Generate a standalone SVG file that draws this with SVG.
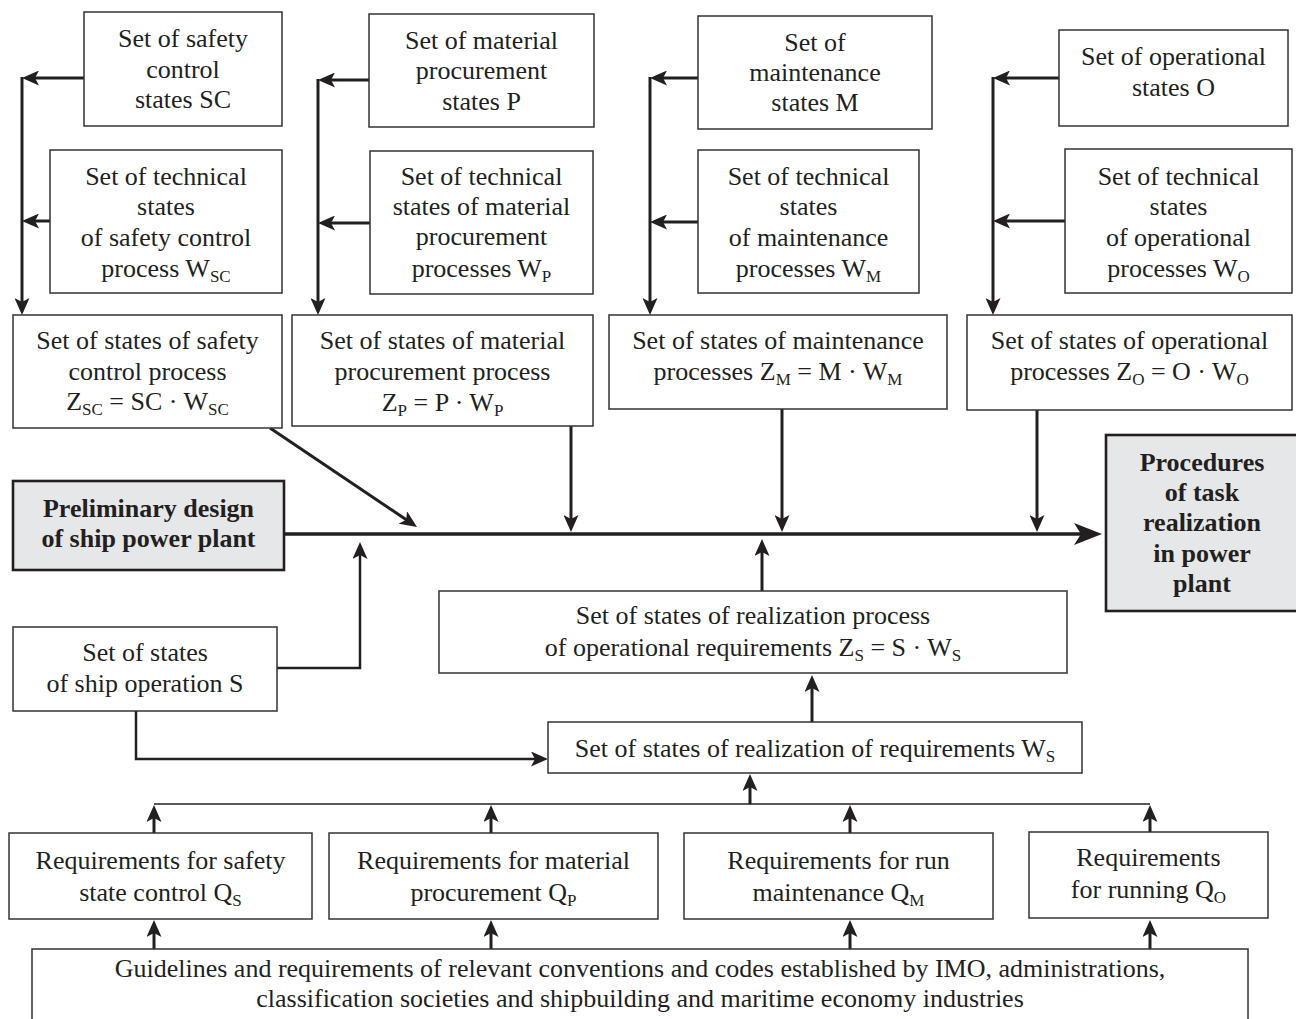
<svg xmlns="http://www.w3.org/2000/svg" width="1296" height="1019" viewBox="0 0 1296 1019">
<style>
  .box{fill:#ffffff;stroke:#333333;stroke-width:1.5}
  .gbox{fill:#e6e7e8;stroke:#231f20;stroke-width:2.6}
  text{font-family:"Liberation Serif","Times New Roman",serif;font-size:26px;fill:#231f20;text-anchor:middle}
  .b{font-weight:bold}
  .sub{font-size:17px}
  .c{fill:none;stroke:#231f20;stroke-width:3}
  .cm{fill:none;stroke:#231f20;stroke-width:3.5}
  .cs{fill:none;stroke:#231f20;stroke-width:2.5}
  .ct{fill:none;stroke:#231f20;stroke-width:1.5}
</style>
<defs>
  <marker id="ah" viewBox="0 0 17 15" refX="11" refY="7.5" markerWidth="17" markerHeight="15" markerUnits="userSpaceOnUse" orient="auto">
    <path d="M0,0 L17,7.5 L0,15 L4,7.5 z" fill="#231f20"/>
  </marker>
  <marker id="ahL" viewBox="0 0 28 22" refX="16" refY="11" markerWidth="28" markerHeight="22" markerUnits="userSpaceOnUse" orient="auto">
    <path d="M0,0 L28,11 L0,22 L7,11 z" fill="#231f20"/>
  </marker>
</defs>

<g id="connectors">
  <path class="c" d="M84,78 L28,78" marker-end="url(#ah)"/>
  <path class="c" d="M50,221 L28,221" marker-end="url(#ah)"/>
  <path class="c" d="M22,77 L22,309" marker-end="url(#ah)"/>
  <path class="c" d="M369,80 L324,80" marker-end="url(#ah)"/>
  <path class="c" d="M370,223 L324,223" marker-end="url(#ah)"/>
  <path class="c" d="M318,79 L318,309" marker-end="url(#ah)"/>
  <path class="c" d="M698,78 L656,78" marker-end="url(#ah)"/>
  <path class="c" d="M698,222 L656,222" marker-end="url(#ah)"/>
  <path class="c" d="M650,77 L650,309" marker-end="url(#ah)"/>
  <path class="c" d="M1059,78 L999,78" marker-end="url(#ah)"/>
  <path class="c" d="M1065,221 L999,221" marker-end="url(#ah)"/>
  <path class="c" d="M993,77 L993,309" marker-end="url(#ah)"/>
  <path class="c" d="M270,428 L412,523.6" marker-end="url(#ah)"/>
  <path class="c" d="M571,426 L571,526" marker-end="url(#ah)"/>
  <path class="c" d="M782,409 L782,526" marker-end="url(#ah)"/>
  <path class="c" d="M1037,410 L1037,526" marker-end="url(#ah)"/>
  <path class="cm" d="M284,534 L1090,534" marker-end="url(#ahL)"/>
  <path class="cs" d="M277,668 L360,668 L360,548" marker-end="url(#ah)"/>
  <path class="c" d="M762,591 L762,545" marker-end="url(#ah)"/>
  <path class="c" d="M812,722 L812,681" marker-end="url(#ah)"/>
  <path class="cs" d="M136,711 L136,759 L542,759" marker-end="url(#ah)"/>
  <path class="ct" d="M154,804 L1150,804"/>
  <path class="c" d="M750,804 L750,780" marker-end="url(#ah)"/>
  <path class="c" d="M154,833 L154,811" marker-end="url(#ah)"/>
  <path class="c" d="M491,833 L491,811" marker-end="url(#ah)"/>
  <path class="c" d="M850,833 L850,811" marker-end="url(#ah)"/>
  <path class="c" d="M1150,833 L1150,811" marker-end="url(#ah)"/>
  <path class="c" d="M154,949 L154,926" marker-end="url(#ah)"/>
  <path class="c" d="M491,949 L491,926" marker-end="url(#ah)"/>
  <path class="c" d="M850,949 L850,926" marker-end="url(#ah)"/>
  <path class="c" d="M1150,949 L1150,926" marker-end="url(#ah)"/>
</g>

<g id="SC">
  <rect class="box" x="84" y="12" width="198" height="114"/>
  <text x="183" y="47">Set of safety</text>
  <text x="183" y="78">control</text>
  <text x="183" y="108">states SC</text>
</g>
<g id="WSC">
  <rect class="box" x="50" y="150" width="232" height="143"/>
  <text x="166" y="185">Set of technical</text>
  <text x="166" y="215">states</text>
  <text x="166" y="246">of safety control</text>
  <text x="166" y="277">process W<tspan class="sub" dy="5">SC</tspan></text>
</g>
<g id="ZSC">
  <rect class="box" x="13" y="315" width="269" height="113"/>
  <text x="147.5" y="349">Set of states of safety</text>
  <text x="147.5" y="380">control process</text>
  <text x="147.5" y="410">Z<tspan class="sub" dy="5">SC</tspan><tspan dy="-5"> = SC · W</tspan><tspan class="sub" dy="5">SC</tspan></text>
</g>

<g id="P">
  <rect class="box" x="369" y="14" width="225" height="113"/>
  <text x="481.5" y="49">Set of  material</text>
  <text x="481.5" y="79">procurement</text>
  <text x="481.5" y="110">states  P</text>
</g>
<g id="WP">
  <rect class="box" x="370" y="151" width="223" height="143"/>
  <text x="481.5" y="185">Set of technical</text>
  <text x="481.5" y="215">states of material</text>
  <text x="481.5" y="245">procurement</text>
  <text x="481.5" y="277">processes W<tspan class="sub" dy="5">P</tspan></text>
</g>
<g id="ZP">
  <rect class="box" x="292" y="315" width="301" height="111"/>
  <text x="442.5" y="349">Set of states of material</text>
  <text x="442.5" y="380">procurement process</text>
  <text x="442.5" y="411">Z<tspan class="sub" dy="5">P</tspan><tspan dy="-5"> = P · W</tspan><tspan class="sub" dy="5">P</tspan></text>
</g>

<g id="M">
  <rect class="box" x="698" y="16" width="234" height="113"/>
  <text x="815" y="51">Set of</text>
  <text x="815" y="81">maintenance</text>
  <text x="815" y="111">states M</text>
</g>
<g id="WM">
  <rect class="box" x="698" y="150" width="221" height="143"/>
  <text x="808.5" y="185">Set of technical</text>
  <text x="808.5" y="215">states</text>
  <text x="808.5" y="246">of maintenance</text>
  <text x="808.5" y="277">processes W<tspan class="sub" dy="5">M</tspan></text>
</g>
<g id="ZM">
  <rect class="box" x="609" y="315" width="338" height="94"/>
  <text x="778" y="349">Set of states of maintenance</text>
  <text x="778" y="380">processes  Z<tspan class="sub" dy="5">M</tspan><tspan dy="-5"> = M · W</tspan><tspan class="sub" dy="5">M</tspan></text>
</g>

<g id="O">
  <rect class="box" x="1059" y="30" width="229" height="96"/>
  <text x="1173.5" y="65">Set of operational</text>
  <text x="1173.5" y="96">states O</text>
</g>
<g id="WO">
  <rect class="box" x="1065" y="149" width="227" height="144"/>
  <text x="1178.5" y="185">Set of technical</text>
  <text x="1178.5" y="215">states</text>
  <text x="1178.5" y="246">of operational</text>
  <text x="1178.5" y="277">processes W<tspan class="sub" dy="5">O</tspan></text>
</g>
<g id="ZO">
  <rect class="box" x="967" y="315" width="325" height="95"/>
  <text x="1129.5" y="349">Set of states of operational</text>
  <text x="1129.5" y="380">processes  Z<tspan class="sub" dy="5">O</tspan><tspan dy="-5"> = O · W</tspan><tspan class="sub" dy="5">O</tspan></text>
</g>

<g id="preliminary">
  <rect class="gbox" x="13" y="481" width="271" height="89"/>
  <text class="b" x="148.5" y="517">Preliminary design</text>
  <text class="b" x="148.5" y="547">of ship power plant</text>
</g>
<g id="procedures">
  <rect class="gbox" x="1106" y="435" width="200" height="176"/>
  <text class="b" x="1202" y="471">Procedures</text>
  <text class="b" x="1202" y="501">of task</text>
  <text class="b" x="1202" y="531">realization</text>
  <text class="b" x="1202" y="562">in power</text>
  <text class="b" x="1202" y="592">plant</text>
</g>

<g id="ZS">
  <rect class="box" x="439" y="591" width="628" height="82"/>
  <text x="753" y="624">Set of states of realization process</text>
  <text x="753" y="656">of operational requirements Z<tspan class="sub" dy="5">S</tspan><tspan dy="-5"> = S · W</tspan><tspan class="sub" dy="5">S</tspan></text>
</g>
<g id="S">
  <rect class="box" x="13" y="627" width="264" height="84"/>
  <text x="145" y="661">Set of states</text>
  <text x="145" y="692">of ship operation S</text>
</g>
<g id="WS">
  <rect class="box" x="548" y="722" width="534" height="51"/>
  <text x="815" y="757">Set of states of realization of requirements  W<tspan class="sub" dy="5">S</tspan></text>
</g>

<g id="QS">
  <rect class="box" x="9" y="833" width="303" height="86"/>
  <text x="160.5" y="869">Requirements for safety</text>
  <text x="160.5" y="901">state control Q<tspan class="sub" dy="5">S</tspan></text>
</g>
<g id="QP">
  <rect class="box" x="329" y="833" width="329" height="86"/>
  <text x="493.5" y="869">Requirements for material</text>
  <text x="493.5" y="901">procurement Q<tspan class="sub" dy="5">P</tspan></text>
</g>
<g id="QM">
  <rect class="box" x="684" y="833" width="309" height="86"/>
  <text x="838.5" y="869">Requirements for run</text>
  <text x="838.5" y="901">maintenance Q<tspan class="sub" dy="5">M</tspan></text>
</g>
<g id="QO">
  <rect class="box" x="1029" y="832" width="239" height="86"/>
  <text x="1148.5" y="866">Requirements</text>
  <text x="1148.5" y="898">for running Q<tspan class="sub" dy="5">O</tspan></text>
</g>
<g id="guidelines">
  <rect class="box" x="32" y="949" width="1216" height="90"/>
  <text x="640" y="977">Guidelines and requirements of relevant conventions and codes established by IMO, administrations,</text>
  <text x="640" y="1007">classification societies and shipbuilding and maritime economy industries</text>
</g>
</svg>
